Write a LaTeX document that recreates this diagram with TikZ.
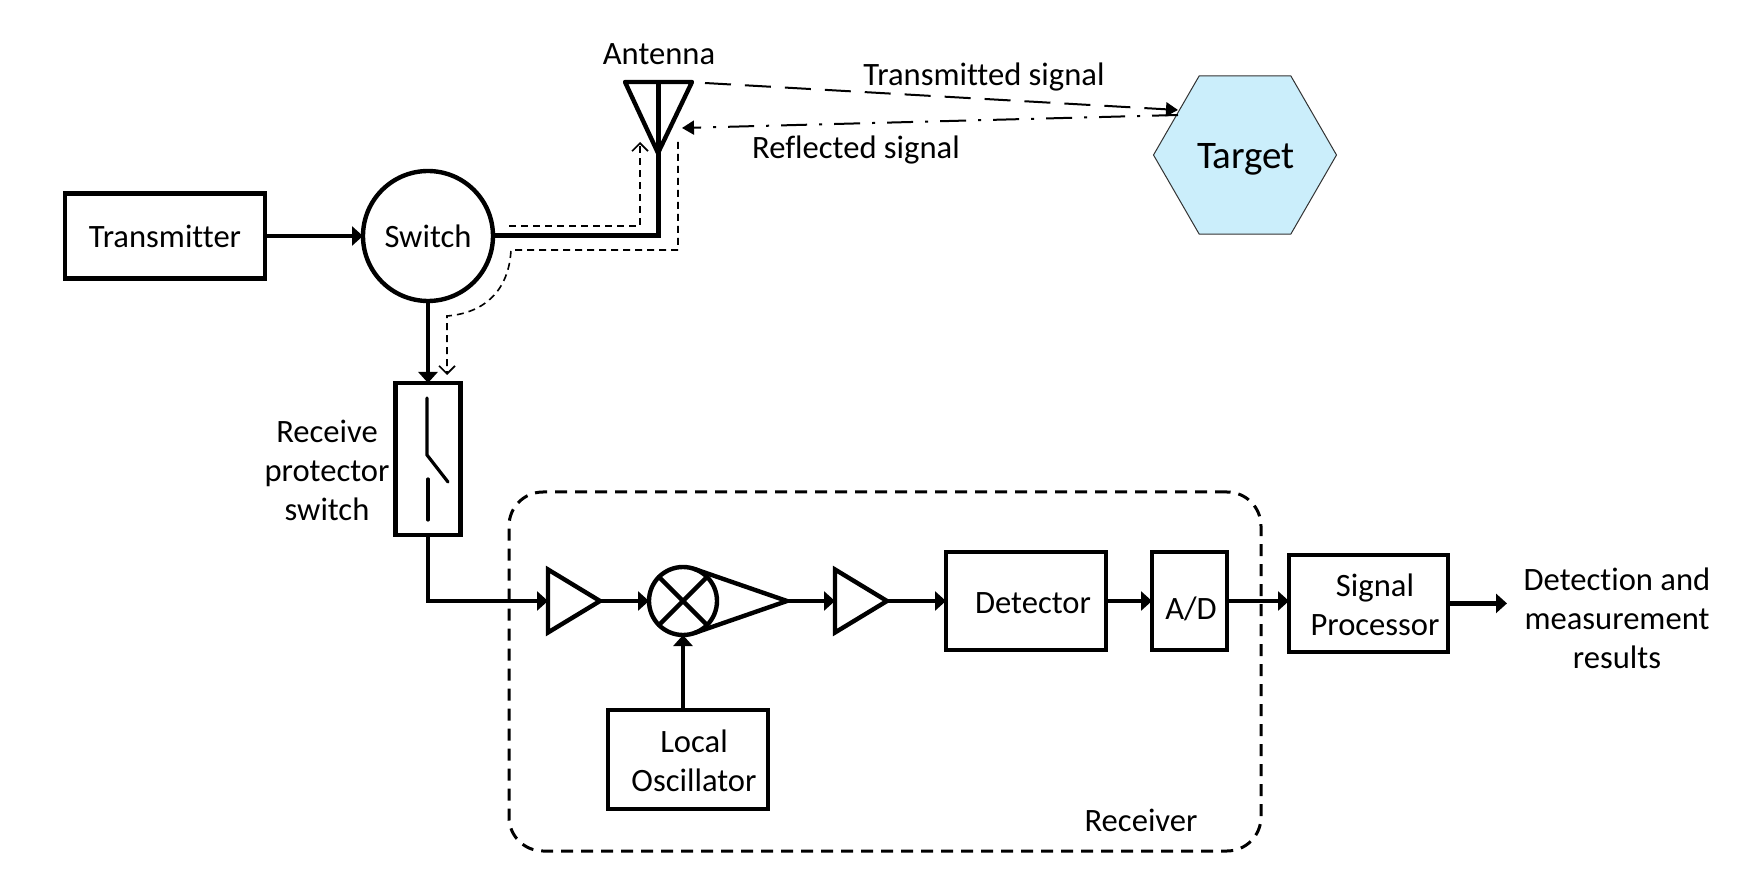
\documentclass[tikz,border=0pt]{standalone}
\usepackage{fontspec}
\setmainfont[Ligatures=NoCommon]{Carlito}
\usepackage{xcolor}
\usetikzlibrary{shapes.geometric, arrows.meta, positioning}

\definecolor{targetblue}{HTML}{CBEEFB}

\begin{document}
\begin{tikzpicture}[
        x=0.5pt, y=-0.5pt,
        block/.style={rectangle, draw=black, line width=2.2pt, inner sep=0pt, outer sep=0pt, align=center},
        ring/.style={circle, draw=black, line width=2.2pt, inner sep=0pt, outer sep=0pt, align=center},
        amp/.style={isosceles triangle, isosceles triangle stretches, draw=black, line width=2.2pt, inner sep=0pt, outer sep=0pt, minimum width=31.5pt, minimum height=26pt},
        label/.style={inner sep=0pt, align=center},
        arrow/.style={-{Triangle[length=5.5pt, width=9.5pt]}, line width=2.2pt, draw=black},
        feed/.style={line width=2.5pt, draw=black},
        thinline/.style={line width=2.2pt, draw=black, line cap=round},
        pathdash/.style={line width=0.8pt, draw=black, dash pattern=on 3.5pt off 2.5pt},
        font=\fontsize{16.3}{19.5}\selectfont
    ]
    \useasboundingbox (0,0) rectangle (1737,882);

    % Receiver frame
    \node (receiver) [rectangle, draw=black, line width=1.5pt, dash pattern=on 6pt off 4pt, rounded corners=17pt, minimum width=376pt, minimum height=179.5pt] at (885,671.5) {};
    \node (receiver_label) [label] at (1141,820) {Receiver};

    % Upper Row
    \node (transmitter) [block, minimum width=100pt, minimum height=42.5pt] at (165,236) {Transmitter};
    \node (switch) [ring, minimum size=65pt, right=49pt of transmitter] {Switch};
    \node (protector) [block, minimum width=32.5pt, minimum height=76pt, below=41pt of switch] {};
    \node (protector_label) [label] at (327,470) {Receive\\protector\\switch};

    % Antenna
    \coordinate (ant_left) at (625,82);
    \coordinate (ant_right) at (692,82);
    \coordinate (ant_top) at (658,82);
    \coordinate (ant_tip) at (658,153);
    \node (antenna_label) [label] at (659,54) {Antenna};

    % Target
    \node (target) [regular polygon, regular polygon sides=6, draw=black!80, line width=0.5pt, fill=targetblue, inner sep=0pt, minimum size=91.5pt] at (1245,155) {};
    \node (target_label) [label, font=\fontsize{19.5}{22}\selectfont] at (1246,159) {Target};
    \coordinate (tx_start) at (705,83);
    \coordinate (tx_end) at (1178,110);
    \coordinate (rx_start) at (1178,115);
    \coordinate (rx_end) at (682,128);
    \node (tx_label) [label] at (984,77) {Transmitted signal};
    \node (rx_label) [label] at (856,150) {Reflected signal};

    % Receiver Row
    \node (amp_in) [amp, anchor=apex] at (600,601) {};
    \node (mixer) [ring, minimum size=34pt, right=24.5pt of amp_in.apex] {};
    \coordinate [right=35pt of mixer] (cone_tip);
    \node (amp_out) [amp, anchor=lower side, right=24pt of cone_tip] {};
    \node (detector) [block, minimum width=80pt, minimum height=49pt, right=29.5pt of amp_out.apex] {};
    \node (adc) [block, minimum width=37.5pt, minimum height=49pt, right=23pt of detector] {};
    \node (processor) [block, minimum width=79.5pt, minimum height=48.5pt, right=31pt of adc, yshift=-1.2pt] {};
    \coordinate [right=29.5pt of processor] (output);
    \node (results) [label] at (1617,618) {Detection and\\measurement\\results};
    \node (oscillator) [block, minimum width=80pt, minimum height=49.5pt, below=37.5pt of mixer, xshift=2.5pt] {};

    % Box texts
    \node (detector_label) [label] at (1033,603) {Detector};
    \node (adc_label) [label] at (1191,609) {A/D};
    \node (processor_label) [label] at (1375,605) {Signal\\Processor};
    \node (oscillator_label) [label] at (694,761) {Local\\Oscillator};

    % Mixer details
    \draw [thinline] (mixer.45) -- (mixer.225);
    \draw [thinline] (mixer.135) -- (mixer.315);
    \draw [thinline, line join=round] (mixer.71) -- (cone_tip) -- (mixer.-71);

    % Protector switch blades
    \coordinate (blade_top) at (427,398);
    \coordinate (blade_hinge) at (427,455);
    \coordinate (blade_end) at (448,482);
    \coordinate (blade_low) at (428,479);
    \coordinate (blade_foot) at (428,520);
    \draw [line width=1.6pt, line cap=round] (blade_top) -- (blade_hinge) -- (blade_end);
    \draw [line width=1.6pt, line cap=round] (blade_low) -- (blade_foot);

    % Antenna lines
    \draw [thinline, line join=round] (ant_left) -- (ant_right) -- (ant_tip) -- cycle;
    \draw [feed] (ant_top) -- (ant_tip);
    \draw [feed] (switch.east) -| (ant_tip);

    % Arrows - Solid
    \draw [arrow] (transmitter) -- (switch);
    \draw [arrow] (switch) -- (protector);
    \draw [arrow] (protector.south) |- (amp_in.lower side);
    \draw [arrow] (amp_in.apex) -- (mixer);
    \draw [arrow] (cone_tip) -- (amp_out.lower side);
    \draw [arrow] (amp_out.apex) -- (detector);
    \draw [arrow] (detector) -- (adc);
    \draw [arrow] (adc) -- (adc -| processor.west);
    \draw [arrow] (processor) -- (output);
    \draw [arrow] (mixer |- oscillator.north) -- (mixer);

    % Signal paths
    \coordinate (up_start) at (509,226);
    \coordinate (up_corner) at (640,226);
    \coordinate (up_end) at (640,142);
    \coordinate (down_start) at (678,142);
    \coordinate (down_corner) at (678,250);
    \coordinate (down_bend) at (511,250);
    \coordinate (down_low) at (447,316);
    \coordinate (down_end) at (447,375);
    \draw [pathdash, -{Straight Barb[length=4pt, width=8pt]}] (up_start) -- (up_corner) -- (up_end);
    \draw [pathdash, -{Straight Barb[length=4pt, width=8pt]}] (down_start) -- (down_corner) -- (down_bend) .. controls (509,290) and (485,313) .. (down_low) -- (down_end);

    % Radio paths
    \draw [line width=1pt, dash pattern=on 13pt off 7pt, -{Triangle[length=6pt, width=7pt]}] (tx_start) -- (tx_end);
    \draw [line width=1pt, dash pattern=on 13pt off 6pt on 1.5pt off 6pt, -{Triangle[length=6pt, width=7pt]}] (rx_start) -- (rx_end);

\end{tikzpicture}
\end{document}
